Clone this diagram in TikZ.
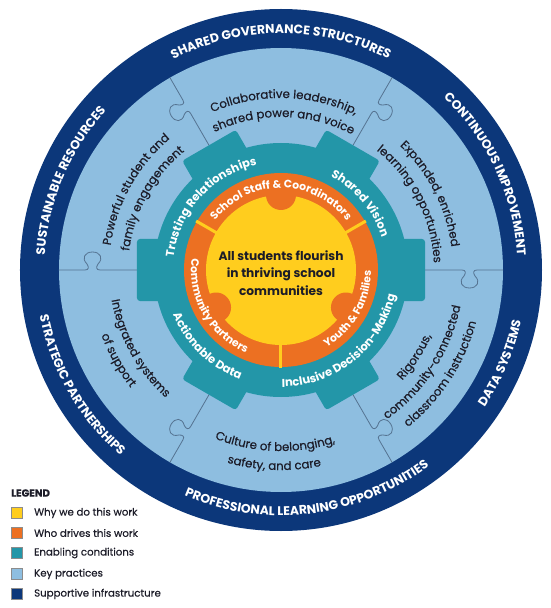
\documentclass[tikz,border=0pt]{standalone}
\usepackage{fontspec}
\setmainfont{Poppins}
\newfontfamily\popmedio{Poppins}[FakeBold=0.5]
\usetikzlibrary{decorations.text}

\definecolor{navy}{RGB}{12,55,122}
\definecolor{azzurro}{RGB}{142,190,224}
\definecolor{petrolio}{RGB}{35,150,168}
\definecolor{arancio}{RGB}{236,112,34}
\definecolor{giallo}{RGB}{255,205,30}
\definecolor{linea}{RGB}{85,115,145}
\definecolor{testo}{RGB}{28,28,40}

\newcommand{\infrafont}{\fontsize{12.5}{14}\selectfont\bfseries}
\newcommand{\pratfont}{\popmedio\fontsize{11.8}{13}\selectfont}
\newcommand{\condfont}{\fontsize{11.5}{13}\selectfont\bfseries}
\newcommand{\motfont}{\fontsize{10.8}{12}\selectfont\bfseries}
\newcommand{\centrofont}{\fontsize{12.2}{17.5}\selectfont\bfseries}
\newcommand{\legfont}{\popmedio\fontsize{10.2}{12}\selectfont}

\begin{document}
\begin{tikzpicture}[x=1pt,y=1pt]
    % Definizione stili
    \tikzset{
        infra/.style={decorate, decoration={text along path, text align=center,
            text color=white, text={|\infrafont|#1}}},
        pratica/.style={decorate, decoration={text along path, text align=center,
            text color=testo, text={|\pratfont|#1}}},
        condiz/.style={decorate, decoration={text along path, text align=center,
            text color=white, text={|\condfont|#1}}},
        motore/.style={decorate, decoration={text along path, text align=center,
            text color=white, text={|\motfont|#1}}},
        incastro/.style={draw=linea, line width=0.8pt},
        voce/.style={rectangle, draw=black!45, line width=0.4pt, minimum size=11pt, inner sep=0pt},
        etichetta/.style={anchor=west, font=\legfont, text=testo, inner sep=0pt}
    }
    \useasboundingbox[fill=white] (-281,-338) rectangle (269,270);

    % Anelli di fondo
    \fill[navy] (0,0) circle (261);
    \fill[azzurro] (0,0) circle (222);

    % Linee a incastro tra le pratiche
    \foreach \a/\s in {0/1, 60/1, 120/-1, 180/1, 240/1, 300/-1} {
        \begin{scope}[rotate=\a, yscale=\s]
            \draw[incastro] (135,0) -- (181,0) .. controls (185,0) and (185,-3) .. (183,-6)
                .. controls (177,-12) and (181,-18) .. (188.5,-18)
                .. controls (196,-18) and (200,-12) .. (194,-6)
                .. controls (192,-3) and (192,0) .. (196,0) -- (222,0);
        \end{scope}
    }

    % Ingranaggio
    \fill[petrolio] (0,0) circle (127);
    \foreach \a in {0,60,...,300}
        \fill[petrolio, rotate=\a, rounded corners=3] (100,-31) rectangle (144,31);

    % Cerchi centrali
    \fill[arancio] (0,0) circle (97);
    \fill[giallo] (0,0) circle (75);
    \foreach \a in {90,210,330}
        \fill[arancio] (\a:75) circle (15);
    \foreach \a in {150,30,270}
        \draw[giallo, line width=3] (\a:74) -- (\a:98);

    % Testi anello esterno
    \path[infra={SHARED GOVERNANCE STRUCTURES}] (170:236.5) arc[start angle=170, end angle=10, radius=236.5];
    \path[infra={CONTINUOUS IMPROVEMENT}] (105:236.5) arc[start angle=105, end angle=-55, radius=236.5];
    \path[infra={SUSTAINABLE RESOURCES}] (237:236.5) arc[start angle=237, end angle=77, radius=236.5];
    \path[infra={DATA SYSTEMS}] (-103:245.5) arc[start angle=-103, end angle=57, radius=245.5];
    \path[infra={PROFESSIONAL LEARNING OPPORTUNITIES}] (-163:245.5) arc[start angle=-163, end angle=-3, radius=245.5];
    \path[infra={STRATEGIC PARTNERSHIPS}] (130:245.5) arc[start angle=130, end angle=290, radius=245.5];

    % Pratiche chiave
    \path[pratica={Collaborative leadership,}] (169:172) arc[start angle=169, end angle=9, radius=172];
    \path[pratica={shared power and voice}] (169:153) arc[start angle=169, end angle=9, radius=153];
    \path[pratica={Powerful student and}] (231:172) arc[start angle=231, end angle=71, radius=172];
    \path[pratica={family engagement}] (231:153) arc[start angle=231, end angle=71, radius=153];
    \path[pratica={Expanded, enriched}] (107:172) arc[start angle=107, end angle=-53, radius=172];
    \path[pratica={learning opportunities}] (107:153) arc[start angle=107, end angle=-53, radius=153];
    \path[pratica={Culture of belonging,}] (-172:181) arc[start angle=-172, end angle=-12, radius=181];
    \path[pratica={safety, and care}] (-172:200) arc[start angle=-172, end angle=-12, radius=200];
    \path[pratica={Integrated systems}] (129:172) arc[start angle=129, end angle=289, radius=172];
    \path[pratica={of support}] (129:191) arc[start angle=129, end angle=289, radius=191];
    \path[pratica={Rigorous,}] (-113:164) arc[start angle=-113, end angle=47, radius=164];
    \path[pratica={community-connected}] (-113:183) arc[start angle=-113, end angle=47, radius=183];
    \path[pratica={classroom instruction}] (-113:202) arc[start angle=-113, end angle=47, radius=202];

    % Condizioni abilitanti
    \path[condiz={Trusting Relationships}] (218:108) arc[start angle=218, end angle=58, radius=108];
    \path[condiz={Shared Vision}] (120:106) arc[start angle=120, end angle=-40, radius=106];
    \path[condiz={Inclusive Decision-Making}] (-131:117) arc[start angle=-131, end angle=29, radius=117];
    \path[condiz={Actionable Data}] (146:117) arc[start angle=146, end angle=306, radius=117];

    % Chi guida il lavoro
    \path[motore={School Staff {\&} Coordinators}] (180:82) arc[start angle=180, end angle=0, radius=82];
    \path[motore={Community Partners}] (120:90) arc[start angle=120, end angle=300, radius=90];
    \path[motore={Youth {\&} Families}] (-120:90) arc[start angle=-120, end angle=60, radius=90];

    % Centro
    \node[font=\centrofont, text=testo, align=center] (centro) at (0,-3)
        {All students flourish\\in thriving school\\communities};

    % Legenda
    \node[etichetta, font=\legfont\bfseries] (legenda) at (-270,-223) {LEGEND};
    \node[voce, fill=giallo] (q1) at (-264.5,-243) {};
    \node[etichetta] (l1) at (-247,-243) {Why we do this work};
    \node[voce, fill=arancio] (q2) at (-264.5,-263) {};
    \node[etichetta] (l2) at (-247,-263) {Who drives this work};
    \node[voce, fill=petrolio] (q3) at (-264.5,-283) {};
    \node[etichetta] (l3) at (-247,-283) {Enabling conditions};
    \node[voce, fill=azzurro] (q4) at (-264.5,-304) {};
    \node[etichetta] (l4) at (-247,-304) {Key practices};
    \node[voce, fill=navy] (q5) at (-264.5,-324) {};
    \node[etichetta] (l5) at (-247,-324) {Supportive infrastructure};

\end{tikzpicture}
\end{document}
